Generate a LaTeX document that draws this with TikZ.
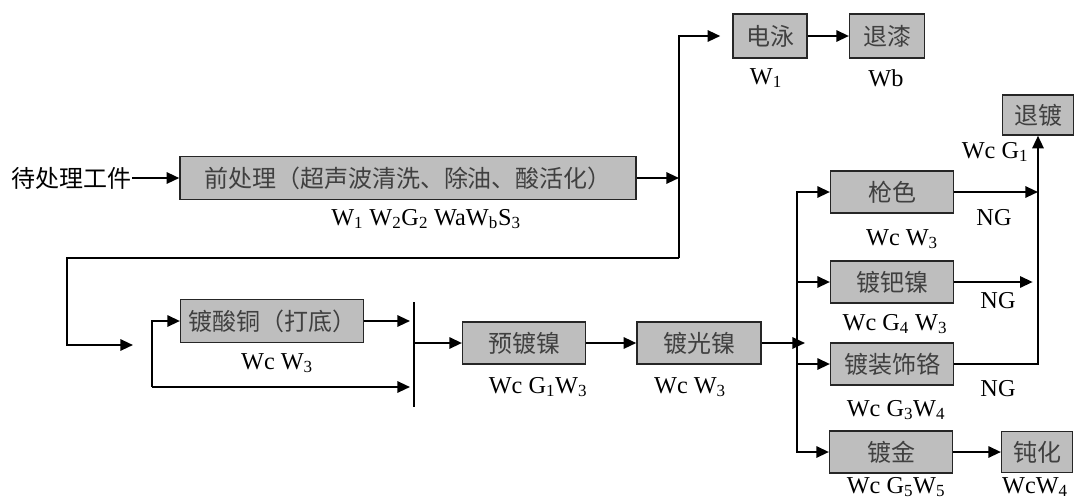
\documentclass[tikz,border=0pt]{standalone}
\usepackage{fontspec}
\setmainfont{Liberation Serif}
\newfontfamily\cjk{Noto Sans CJK SC}
\usepackage{tikz}
\usetikzlibrary{arrows.meta, positioning, calc}
\definecolor{kuanghui}{RGB}{190,190,190}
\definecolor{zihui}{RGB}{64,64,64}

\begin{document}
\begin{tikzpicture}[
        x=0.75pt, y=-0.75pt,
        kuang/.style={draw=black!85,line width=1.1pt,fill=kuanghui,minimum height=32pt,inner sep=2pt,text=zihui,font=\cjk\fontsize{18}{20}\selectfont},
        jiantou/.style={-{Triangle[length=9.5pt,width=8.5pt]},line width=1.6pt},
        xian/.style={line width=1.6pt},
        zhu/.style={inner sep=0pt,font=\fontsize{18.2}{20}\selectfont}
    ]
        \useasboundingbox (0,0) rectangle (1076,501);
        % 前处理
        \node[inner sep=0pt,font=\cjk\fontsize{18}{20}\selectfont] (daichuli) at (72,178) {待处理工件};
        \node[kuang,minimum width=342pt] (qian) at (408,178) {前处理（超声波清洗、除油、酸活化）};
        \node[zhu] (lqian) at (426,219) {W\textsubscript{1} W\textsubscript{2}G\textsubscript{2} WaW\textsubscript{b}S\textsubscript{3}};
        \node[kuang,minimum width=55.5pt,minimum height=33pt] (dianyong) at (770,36) {电泳};
        \node[kuang,minimum width=56pt,minimum height=33pt] (tuiqi) at (887,36) {退漆};
        \node[zhu] (ldianyong) at (766,78) {W\textsubscript{1}};
        \node[zhu] (ltuiqi) at (886,78) {Wb};
        % 打底与镀镍
        \node[kuang,minimum width=137pt] (dtong) at (272,321) {镀酸铜（打底）};
        \node[zhu] (ldtong) at (277,363) {Wc W\textsubscript{3}};
        \node[kuang,minimum width=92pt,minimum height=31.5pt] (yudu) at (524,343) {预镀镍};
        \node[kuang,minimum width=93pt,minimum height=31.5pt] (guangnie) at (699,343) {镀光镍};
        \node[zhu] (lyudu) at (538,387) {Wc G\textsubscript{1}W\textsubscript{3}};
        \node[zhu] (lguangnie) at (690,387) {Wc W\textsubscript{3}};
        % 表面处理
        \node[kuang,minimum width=92pt,minimum height=31.5pt] (qiangse) at (892,192) {枪色};
        \node[kuang,minimum width=92pt,minimum height=31.5pt] (bani) at (892,282) {镀钯镍};
        \node[kuang,minimum width=92pt,minimum height=31.5pt] (dzs) at (892,364) {镀装饰铬};
        \node[kuang,minimum width=92pt,minimum height=31.5pt] (jin) at (891,452) {镀金};
        \node[kuang,minimum width=53pt,minimum height=30pt] (tuidu) at (1038,115) {退镀};
        \node[kuang,minimum width=53pt,minimum height=31pt] (dunhua) at (1037,452) {钝化};
        \node[zhu] (lqiangse) at (902,239) {Wc W\textsubscript{3}};
        \node[zhu] (lbani) at (895,324) {Wc G\textsubscript{4} W\textsubscript{3}};
        \node[zhu] (ldzs) at (896,410) {Wc G\textsubscript{3}W\textsubscript{4}};
        \node[zhu] (ljin) at (896,487) {Wc G\textsubscript{5}W\textsubscript{5}};
        \node[zhu] (ldunhua) at (1035,487) {WcW\textsubscript{4}};
        \node[zhu] (ltuidu) at (995,152) {Wc G\textsubscript{1}};
        \node[zhu] (ng1) at (994,218) {NG};
        \node[zhu] (ng2) at (998,301) {NG};
        \node[zhu] (ng3) at (998,389) {NG};

        \coordinate (guai1) at (679,258);
        \coordinate (guai2) at (67,258);
        \coordinate (rukou) at (133,345);
        \coordinate (huan) at (152,387);
        \coordinate (gan1) at (414,302);
        \coordinate (gan2) at (414,407);
        \coordinate (fen) at (797,0);

        \draw[jiantou] (daichuli) -- (qian);
        \draw[jiantou] (qian.east) -- (qian.east -| guai1);
        \draw[jiantou] (guai1) |- ([xshift=-9pt]dianyong.west);
        \draw[jiantou] (guai1) -- (guai2) |- (rukou);
        \draw[jiantou] (dianyong) -- (tuiqi);

        \draw[xian] (gan1) -- (gan2);
        \draw[jiantou] (huan) |- (dtong.west);
        \draw[jiantou] (huan) -- ([xshift=-3pt]huan -| gan1);
        \draw[jiantou] (dtong.east) -- ([xshift=-3pt]dtong.east -| gan1);
        \draw[jiantou] (yudu.west -| gan1) -- (yudu.west);
        \draw[jiantou] (yudu) -- (guangnie);
        \draw[jiantou] (guangnie.east) -- ([xshift=6pt]guangnie.east -| fen);

        \draw[jiantou] (fen |- dzs.west) |- (qiangse.west);
        \draw[jiantou] (fen |- dzs.west) |- (jin.west);
        \draw[jiantou] (fen |- bani.west) -- (bani.west);
        \draw[jiantou] (fen |- dzs.west) -- (dzs.west);
        \draw[jiantou] (jin) -- (dunhua);

        \draw[jiantou] (qiangse.east) -- (qiangse.east -| tuidu.south);
        \draw[jiantou] (bani.east) -- ([xshift=-4pt]bani.east -| tuidu.south);
        \draw[jiantou] (dzs.east) -| (tuidu.south);
    \end{tikzpicture}
\end{document}
